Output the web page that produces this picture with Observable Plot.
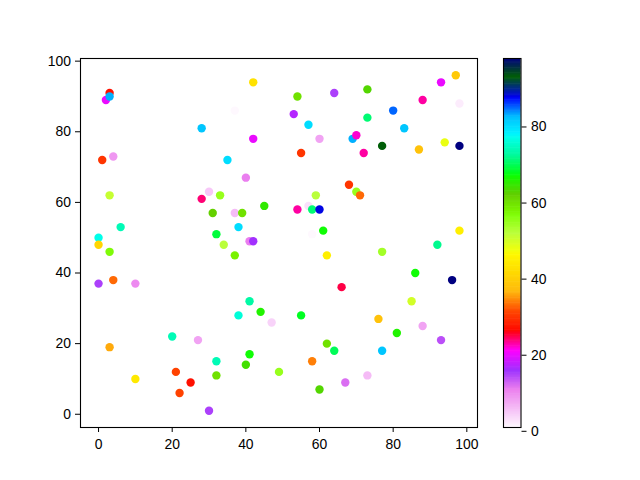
<!DOCTYPE html>
<html>
<head>
<meta charset="utf-8">
<script src="https://cdn.jsdelivr.net/npm/d3@7"></script>
<script src="https://cdn.jsdelivr.net/npm/@observablehq/plot@0.6"></script>
<style>
  body { margin: 0; background: white; }
  #fig { position: relative; width: 640px; height: 480px; background: white; overflow: hidden; }
  #fig svg { position: absolute; top: 0; }
</style>
</head>
<body>
<div id="fig"></div>
<script>
const xs = [3,2,3,28,1,4,3,28,30,33,31,32,6,0,42,54,64,37,53,57,42,60,69,70,55,35,40,68,45,59,37,39,54,57,58,60,61,38,58,41,42,73,93,97,88,98,80,73,83,72,77,87,94,98,70,71,98,92,0,3,0,4,10,20,27,3,32,32,10,21,25,22,30,34,37,62,66,41,38,44,47,55,62,64,58,41,40,49,60,67,77,86,96,85,76,88,81,93,77,73];
const ys = [91,89,90,81,72,73,62,61,63,62,57,51,53,50,94,90,91,86,85,82,78,78,78,79,74,72,67,65,59,62,57,57,58,59,58,58,52,53,51,49,49,92,94,96,89,88,86,84,81,74,76,75,77,76,63,62,52,48,48,46,37,38,37,22,21,19,15,11,10,12,9,6,1,48,45,45,36,32,28,29,26,28,20,18,15,17,14,12,7,9,46,40,38,32,27,25,23,21,18,11];
const cs = [27,20,83,82,30,9,51,24,5,55,62,69,74,77,43,60,15,1,17,80,20,8,83,22,30,80,11,30,65,52,6,60,23,3,71,88,67,80,1,11,16,63,20,39,23,2,85,71,82,23,93,38,48,98,55,33,45,72,41,57,15,33,10,74,8,36,74,60,44,31,27,31,15,52,58,45,25,73,76,66,4,68,60,70,34,67,64,55,63,12,54,67,98,50,38,8,66,14,82,6];
const xTicks = [0,20,40,60,80,100];
const yTicks = [0,20,40,60,80,100];
const cTicks = [0,20,40,60,80];

const data = xs.map((x, i) => ({x, y: ys[i], c: cs[i]}));

// matplotlib gist_ncar segment data, used reversed (gist_ncar_r)
const seg = {
  r: [[0,0],[0.3098,0],[0.3725,0.3993],[0.4235,0.5003],[0.5333,1],[0.7922,1],[0.8471,0.6218],[0.8980,0.9235],[1,0.9961]],
  g: [[0,0],[0.0510,0.3722],[0.1059,0],[0.1569,0.7202],[0.1608,0.7537],[0.1647,0.7752],[0.2157,1],[0.2588,0.9804],[0.2706,0.9804],[0.3176,1],[0.3686,0.8081],[0.4275,1],[0.5216,1],[0.6314,0.7292],[0.6863,0.2796],[0.7451,0],[0.7922,0],[0.8431,0.1753],[0.8980,0.5],[1,0.9725]],
  b: [[0,0.5020],[0.0510,0.0222],[0.1098,1],[0.2039,1],[0.2627,0.6145],[0.3216,0],[0.4157,0],[0.4745,0.2342],[0.5333,0],[0.5804,0],[0.6314,0.0549],[0.6902,0],[0.7373,0],[0.7922,0.9738],[0.8,1],[0.8431,1],[0.8980,0.9341],[1,0.9961]]
};
function segVal(pts, t) {
  for (let i = 1; i < pts.length; i++) {
    if (t <= pts[i][0]) {
      const [t0, v0] = pts[i-1], [t1, v1] = pts[i];
      return v0 + (v1 - v0) * (t - t0) / (t1 - t0);
    }
  }
  return pts[pts.length-1][1];
}
function gistNcarR(t) {
  t = Math.max(0, Math.min(1, 1 - t));
  const f = v => Math.round(255 * v);
  return `rgb(${f(segVal(seg.r, t))},${f(segVal(seg.g, t))},${f(segVal(seg.b, t))})`;
}

const cMin = d3.min(cs), cMax = d3.max(cs);
const colorScale = {type: "linear", domain: [cMin, cMax], interpolate: t => gistNcarR(t)};

function padded(arr) {
  const [a, b] = d3.extent(arr);
  const m = (b - a) * 0.05;
  return [a - m, b + m];
}

const font = "Liberation Sans, Arial, sans-serif";
const fs = "13.9px";

const main = Plot.plot({
  width: 640, height: 480,
  marginLeft: 80, marginRight: 163, marginTop: 58, marginBottom: 53,
  style: {background: "transparent", fontFamily: font, fontSize: fs, color: "black"},
  x: {domain: padded(xs), ticks: xTicks, tickSize: 5, tickPadding: 6.5, label: null, tickFormat: d3.format("d")},
  y: {domain: padded(ys), ticks: yTicks, tickSize: 5, tickPadding: 4.5, label: null, tickFormat: d3.format("d")},
  color: colorScale,
  marks: [
    Plot.dot(data, {x: "x", y: "y", fill: "c", r: 4.2, stroke: null}),
    Plot.frame({stroke: "black", strokeWidth: 1.1})
  ]
});

const cbStep = (cMax - cMin) / 300;
const cbSteps = d3.range(cMin, cMax, cbStep);
const cbar = Plot.plot({
  width: 60, height: 480,
  marginLeft: 2, marginRight: 40.5, marginTop: 58, marginBottom: 53,
  style: {background: "transparent", fontFamily: font, fontSize: fs, color: "black"},
  x: {domain: [0, 1], axis: null},
  y: {domain: [cMin, cMax], ticks: cTicks, axis: "right", tickSize: 5, tickPadding: 5, label: null, tickFormat: d3.format("d")},
  color: colorScale,
  marks: [
    Plot.rect(cbSteps, {x1: 0, x2: 1, y1: d => d, y2: d => Math.min(cMax, d + cbStep * 1.5), fill: d => d + cbStep / 2}),
    Plot.frame({stroke: "black", strokeWidth: 1.1})
  ]
});

const fig = document.getElementById("fig");
main.style.left = "0px";
cbar.style.left = "500.5px";
fig.appendChild(main);
fig.appendChild(cbar);
</script>
</body>
</html>
